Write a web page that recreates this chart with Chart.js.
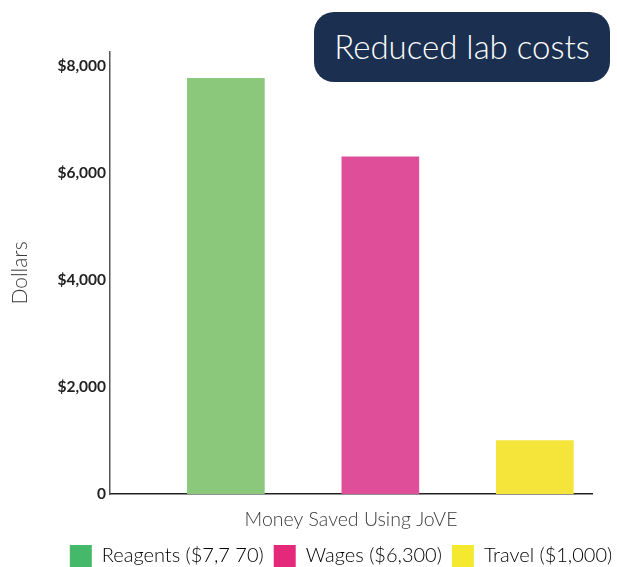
<!DOCTYPE html>
<html>
<head>
<meta charset="utf-8">
<script src="https://cdn.jsdelivr.net/npm/chart.js@4"></script>
<style>
  html, body { margin:0; padding:0; background:#fff; }
  #wrap { position:relative; width:617px; height:567px; overflow:hidden; }
  #title { position:absolute; left:314px; top:12px; width:296px; height:70px; background:#1b3050;
    border-radius:20px; color:#fff; font-family:Lato, sans-serif; font-weight:300; font-size:33px;
    display:flex; align-items:center; justify-content:center; box-sizing:border-box; padding-bottom:2px; }
</style>
</head>
<body>
<div id="wrap">
<canvas id="c" width="617" height="567"></canvas>
<div id="title">Reduced lab costs</div>
</div>
<script>
const categories = ['Reagents', 'Wages', 'Travel'];
const legendLabels = ['Reagents ($7,7 70)', 'Wages ($6,300)', 'Travel ($1,000)'];
const values = [7770, 6300, 1000];
const barColors = ['#8bc87c', '#df4e98', '#f5e53a'];
const legendColors = ['#45b86a', '#e5297a', '#f5e92f'];
const tickValues = [0, 2000, 4000, 6000, 8000];
const tickLabels = ['0', '$2,000', '$4,000', '$6,000', '$8,000'];

const points = values.map((v, i) => ({ x: i, y: v }));

const shiftLegend = {
  id: 'shiftLegend',
  afterLayout(chart) {
    const l = chart.legend;
    if (l) { l.left += 41; l.right += 41; }
  }
};

new Chart(document.getElementById('c'), {
  type: 'bar',
  data: {
    datasets: [{
      label: 'Money Saved Using JoVE',
      data: points,
      backgroundColor: barColors,
      borderWidth: 0,
      barThickness: 77
    }]
  },
  plugins: [shiftLegend],
  options: {
    responsive: false,
    animation: false,
    layout: { padding: { top: 52, right: 25, left: 8, bottom: -10 } },
    plugins: {
      tooltip: { enabled: false },
      legend: {
        position: 'bottom',
        labels: {
          boxWidth: 22, boxHeight: 22, padding: 10,
          color: '#3a3a3a',
          font: { family: 'Lato', size: 20, weight: '300' },
          generateLabels: () => legendLabels.map((t, i) => ({
            text: t, fillStyle: legendColors[i], strokeStyle: legendColors[i], lineWidth: 0, hidden: false, index: i
          }))
        }
      }
    },
    scales: {
      x: {
        type: 'linear',
        offset: false,
        min: -0.75, max: 2.37,
        grid: { display: false, drawTicks: false },
        border: { display: true, color: '#222', width: 1.5 },
        ticks: { display: false },
        title: { display: true, text: 'Money Saved Using JoVE', color: '#3a3a3a',
          font: { family: 'Lato', size: 19.5, weight: '300' }, padding: { top: 16, bottom: 4 } },
        afterFit: s => { s.height = 41; }
      },
      y: {
        min: 0, max: 8260,
        grid: { display: false, drawTicks: false },
        border: { display: true, color: '#555', width: 1.5 },
        afterBuildTicks: s => { s.ticks = tickValues.map(v => ({ value: v })); },
        ticks: {
          color: '#222', padding: 4,
          font: { family: 'Lato', size: 15.5, weight: 'bold' },
          callback: (v) => tickLabels[tickValues.indexOf(v)]
        },
        title: { display: true, text: 'Dollars', color: '#3a3a3a',
          font: { family: 'Lato', size: 21, weight: '300' }, padding: { top: 0, bottom: 0 } },
        afterFit: s => { s.width = 102; }
      }
    }
  }
});
</script>
</body>
</html>
